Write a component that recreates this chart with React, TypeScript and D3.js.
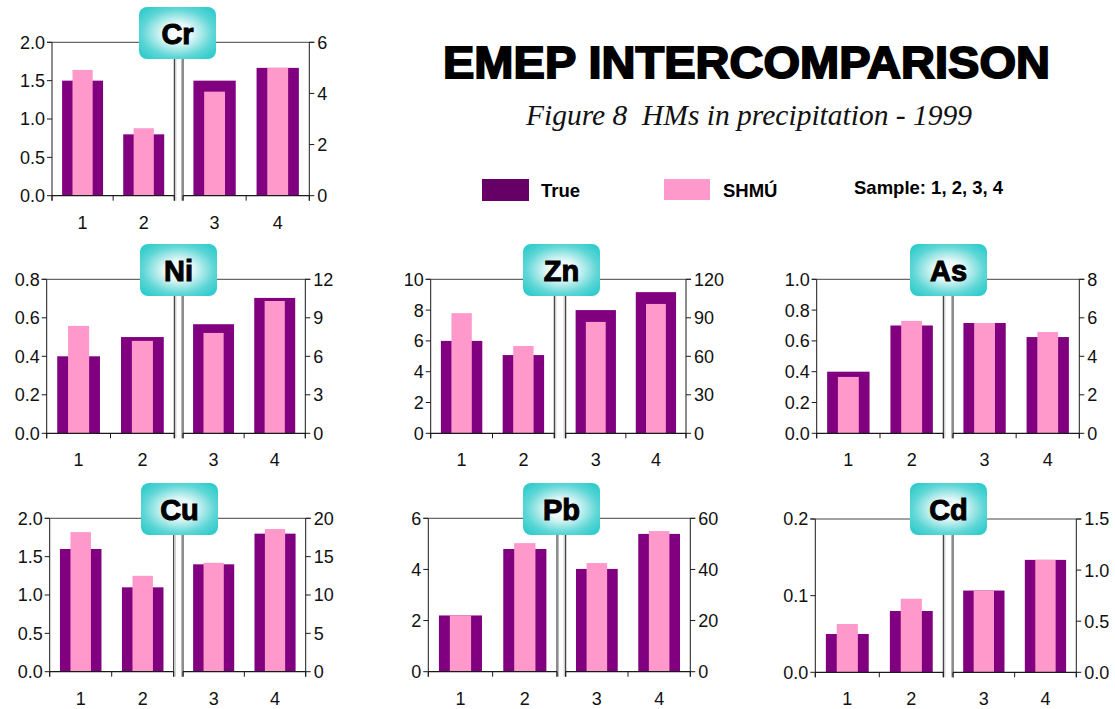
import React from "react";
import * as d3 from "d3";

// ---------- DATA ----------
const samples = ["1", "2", "3", "4"];
const elements = ["Cr", "Ni", "Zn", "As", "Cu", "Pb", "Cd"];

const crTrue = [1.5, 0.8, 4.5, 5.0];
const crShmu = [1.64, 0.88, 4.07, 5.0];
const niTrue = [0.4, 0.5, 8.5, 10.55];
const niShmu = [0.558, 0.48, 7.82, 10.31];
const znTrue = [6.0, 5.08, 96, 110];
const znShmu = [7.8, 5.67, 86.8, 100.8];
const asTrue = [0.4, 0.7, 5.73, 5.0];
const asShmu = [0.366, 0.73, 5.73, 5.26];
const cuTrue = [1.6, 1.1, 14.0, 18.0];
const cuShmu = [1.82, 1.25, 14.2, 18.6];
const pbTrue = [2.2, 4.8, 40.2, 53.9];
const pbShmu = [2.2, 5.03, 42.5, 55.0];
const cdTrue = [0.05, 0.08, 0.8, 1.1];
const cdShmu = [0.063, 0.096, 0.8, 1.1];

const crLeftTicks = ["0.0", "0.5", "1.0", "1.5", "2.0"];
const crRightTicks = ["0", "2", "4", "6"];
const niLeftTicks = ["0.0", "0.2", "0.4", "0.6", "0.8"];
const niRightTicks = ["0", "3", "6", "9", "12"];
const znLeftTicks = ["0", "2", "4", "6", "8", "10"];
const znRightTicks = ["0", "30", "60", "90", "120"];
const asLeftTicks = ["0.0", "0.2", "0.4", "0.6", "0.8", "1.0"];
const asRightTicks = ["0", "2", "4", "6", "8"];
const cuLeftTicks = ["0.0", "0.5", "1.0", "1.5", "2.0"];
const cuRightTicks = ["0", "5", "10", "15", "20"];
const pbLeftTicks = ["0", "2", "4", "6"];
const pbRightTicks = ["0", "20", "40", "60"];
const cdLeftTicks = ["0.0", "0.1", "0.2"];
const cdRightTicks = ["0.0", "0.5", "1.0", "1.5"];

const seriesNames = ["True", "SHMÚ"];
const titleText = "EMEP INTERCOMPARISON";
const subtitleText = "Figure 8  HMs in precipitation - 1999";
const sampleText = "Sample: 1, 2, 3, 4";

const dataTable = [
  { name: "Cr", t: crTrue, s: crShmu, lt: crLeftTicks, rt: crRightTicks },
  { name: "Ni", t: niTrue, s: niShmu, lt: niLeftTicks, rt: niRightTicks },
  { name: "Zn", t: znTrue, s: znShmu, lt: znLeftTicks, rt: znRightTicks },
  { name: "As", t: asTrue, s: asShmu, lt: asLeftTicks, rt: asRightTicks },
  { name: "Cu", t: cuTrue, s: cuShmu, lt: cuLeftTicks, rt: cuRightTicks },
  { name: "Pb", t: pbTrue, s: pbShmu, lt: pbLeftTicks, rt: pbRightTicks },
  { name: "Cd", t: cdTrue, s: cdShmu, lt: cdLeftTicks, rt: cdRightTicks },
];

// ---------- LAYOUT ----------
const layout: Record<string, any> = {
  Cr: { x0: 52, x1: 174.3, x2: 183, x3: 309.3, yTop: 42.3, yBot: 195.7, bx: 139, by: 7 },
  Ni: { x0: 46.7, x1: 174.3, x2: 183, x3: 305.3, yTop: 279.3, yBot: 433.3, bx: 140, by: 244 },
  Zn: { x0: 430.7, x1: 554.3, x2: 565.7, x3: 686, yTop: 279.3, yBot: 433.3, bx: 523, by: 244 },
  As: { x0: 816.7, x1: 943.3, x2: 953, x3: 1079.3, yTop: 279.3, yBot: 433.3, bx: 910, by: 244 },
  Cu: { x0: 49.7, x1: 173.7, x2: 183, x3: 305.7, yTop: 518.3, yBot: 671.7, bx: 141, by: 483 },
  Pb: { x0: 428.3, x1: 557, x2: 565.7, x3: 690.3, yTop: 518.3, yBot: 671.7, bx: 523, by: 483 },
  Cd: { x0: 815.3, x1: 943.3, x2: 953, x3: 1076.3, yTop: 519, yBot: 672.3, bx: 910, by: 483 },
};

const TRUE_COLOR = "#800080";
const SHMU_COLOR = "#FF99CC";
const LEGEND_TRUE = "#660066";
const AXIS = "#1a1a1a";
const FONT = "'Liberation Sans', Arial, Helvetica, sans-serif";
const TICK_FS = 18;

function Panel({ d }: { d: any }) {
  const L = layout[d.name];
  const leftMax = +d.lt[d.lt.length - 1];
  const rightMax = +d.rt[d.rt.length - 1];
  const yL = d3.scaleLinear().domain([0, leftMax]).range([L.yBot, L.yTop]);
  const yR = d3.scaleLinear().domain([0, rightMax]).range([L.yBot, L.yTop]);
  const xL = d3.scaleBand().domain(samples.slice(0, 2)).range([L.x0, L.x1]).padding(0);
  const xR = d3.scaleBand().domain(samples.slice(2)).range([L.x2, L.x3]).padding(0);

  const bars = samples.map((s, i) => {
    const left = i < 2;
    const x = left ? xL : xR;
    const y = left ? yL : yR;
    const bw = x.bandwidth();
    const cx = (x(s) as number) + bw / 2;
    const tw = bw * 0.67;
    const sw = bw * 0.33;
    return (
      <g key={s}>
        <rect x={cx - tw / 2} y={y(d.t[i])} width={tw} height={L.yBot - y(d.t[i])} fill={TRUE_COLOR} />
        <rect x={cx - sw / 2} y={y(d.s[i])} width={sw} height={L.yBot - y(d.s[i])} fill={SHMU_COLOR} />
        <text x={cx} y={L.yBot + 33} textAnchor="middle" fontSize={TICK_FS} fontFamily={FONT} fill="#111">
          {s}
        </text>
      </g>
    );
  });

  const gradId = `grad-${d.name}`;
  const bw = 77;
  const bh = 52;

  return (
    <g>
      {bars}
      {/* left plot frame */}
      <line x1={L.x0} y1={L.yTop} x2={L.x0} y2={L.yBot + 5} stroke={AXIS} strokeWidth={1} />
      <line x1={L.x0 - 5} y1={L.yTop} x2={L.x1} y2={L.yTop} stroke="#444" strokeWidth={1} />
      <line x1={L.x0} y1={L.yBot} x2={L.x1} y2={L.yBot} stroke={AXIS} strokeWidth={1.3} />
      <line x1={L.x1} y1={L.yTop} x2={L.x1} y2={L.yBot + 5} stroke={AXIS} strokeWidth={1} />
      {/* right plot frame */}
      <line x1={L.x2} y1={L.yTop} x2={L.x2} y2={L.yBot + 5} stroke={AXIS} strokeWidth={1} />
      <line x1={L.x2} y1={L.yTop} x2={L.x3 + 5} y2={L.yTop} stroke="#444" strokeWidth={1} />
      <line x1={L.x2} y1={L.yBot} x2={L.x3} y2={L.yBot} stroke={AXIS} strokeWidth={1.3} />
      <line x1={L.x3} y1={L.yTop} x2={L.x3} y2={L.yBot + 5} stroke={AXIS} strokeWidth={1} />
      {/* gap shading */}
      <line x1={L.x1 + 1.5} y1={L.yTop} x2={L.x1 + 1.5} y2={L.yBot + 5} stroke="#bbb" strokeWidth={1} />
      <line x1={L.x2 - 1.5} y1={L.yTop} x2={L.x2 - 1.5} y2={L.yBot + 5} stroke="#bbb" strokeWidth={1} />
      {/* bottom category ticks */}
      {[L.x0, (xL("2") as number), L.x1].map((x, i) => (
        <line key={"bl" + i} x1={x} y1={L.yBot} x2={x} y2={L.yBot + 5} stroke={AXIS} />
      ))}
      {[L.x2, (xR("4") as number), L.x3].map((x, i) => (
        <line key={"br" + i} x1={x} y1={L.yBot} x2={x} y2={L.yBot + 5} stroke={AXIS} />
      ))}
      {/* left ticks */}
      {d.lt.map((t: string) => (
        <g key={"lt" + t}>
          <line x1={L.x0 - 5} y1={yL(+t)} x2={L.x0} y2={yL(+t)} stroke={AXIS} />
          <text x={L.x0 - 7} y={yL(+t)} dy="0.36em" textAnchor="end" fontSize={TICK_FS} fontFamily={FONT} fill="#111">
            {t}
          </text>
        </g>
      ))}
      {/* right ticks */}
      {d.rt.map((t: string) => (
        <g key={"rt" + t}>
          <line x1={L.x3} y1={yR(+t)} x2={L.x3 + 5} y2={yR(+t)} stroke={AXIS} />
          <text x={L.x3 + 8} y={yR(+t)} dy="0.36em" textAnchor="start" fontSize={TICK_FS} fontFamily={FONT} fill="#111">
            {t}
          </text>
        </g>
      ))}
      {/* label box */}
      <defs>
        <radialGradient id={gradId} cx="50%" cy="50%" r="62%" fx="50%" fy="50%">
          <stop offset="0%" stopColor="#ffffff" />
          <stop offset="30%" stopColor="#e6f8f8" />
          <stop offset="75%" stopColor="#5dd6d6" />
          <stop offset="100%" stopColor="#33cccc" />
        </radialGradient>
      </defs>
      <rect x={L.bx} y={L.by} width={bw} height={bh} rx={8} ry={8} fill={`url(#${gradId})`} />
      <text
        x={L.bx + bw / 2}
        y={L.by + 37}
        textAnchor="middle"
        fontSize={29}
        fontWeight="bold"
        fontFamily={FONT}
        fill="#000"
        stroke="#000"
        strokeWidth={1}
      >
        {d.name}
      </text>
    </g>
  );
}

export default function App() {
  return (
    <svg
      width={1115}
      height={709}
      style={{ position: "absolute", left: 0, top: 0, background: "#fff" }}
      xmlns="http://www.w3.org/2000/svg"
    >
      <rect x={0} y={0} width={1115} height={709} fill="#fff" />
      {elements.map((e) => (
        <Panel key={e} d={dataTable.find((r) => r.name === e)} />
      ))}
      <text
        x={443}
        y={78}
        fontSize={44}
        fontWeight="bold"
        fontFamily={FONT}
        fill="#000"
        stroke="#000"
        strokeWidth={1.8}
        textLength={607}
        lengthAdjust="spacingAndGlyphs"
      >
        {titleText}
      </text>
      <text
        x={749}
        y={125}
        textAnchor="middle"
        fontSize={29.5}
        fontStyle="italic"
        fontFamily="'Liberation Serif', 'Times New Roman', serif"
        fill="#111"
        style={{ whiteSpace: "pre" }}
        xmlSpace="preserve"
      >
        {subtitleText}
      </text>
      {/* legend */}
      <rect x={482} y={179} width={47} height={22} fill={LEGEND_TRUE} />
      <text x={541} y={197} fontSize={18.5} fontWeight="bold" fontFamily={FONT} fill="#000">
        {seriesNames[0]}
      </text>
      <rect x={664} y={179} width={46} height={21} fill={SHMU_COLOR} />
      <text x={723} y={197} fontSize={18.5} fontWeight="bold" fontFamily={FONT} fill="#000">
        {seriesNames[1]}
      </text>
      <text x={854} y={194} fontSize={18.5} fontWeight="bold" fontFamily={FONT} fill="#000">
        {sampleText}
      </text>
    </svg>
  );
}
